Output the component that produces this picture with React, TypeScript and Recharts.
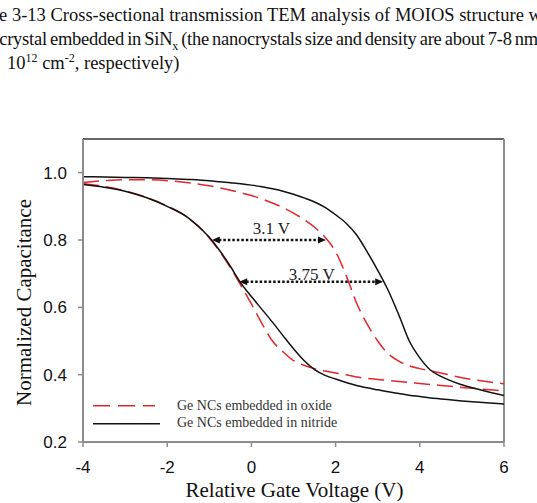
import React from "react";
import {
  LineChart,
  Line,
  XAxis,
  YAxis,
  ReferenceLine,
  Legend,
  Label,
} from "recharts";

// C-V hysteresis of MOIOS capacitors: Ge nanocrystals in oxide vs. in nitride.
// Each sweep direction is its own branch, sampled on the shared gate-voltage grid.

const VOLTS = [
  -4, -3.5, -3, -2.5, -2, -1.5, -1, -0.75, -0.5, -0.25, 0, 0.25, 0.5, 0.75, 1,
  1.25, 1.5, 1.75, 2, 2.25, 2.5, 2.75, 3, 3.25, 3.5, 3.75, 4, 4.25, 4.5, 5, 5.5,
  6,
];

const OXIDE_FORWARD = [
  0.968, 0.959, 0.946, 0.927, 0.901, 0.866, 0.806, 0.765, 0.718, 0.665, 0.61,
  0.552, 0.5, 0.468, 0.442, 0.428, 0.418, 0.411, 0.405, 0.4, 0.393, 0.389, 0.386,
  0.383, 0.38, 0.377, 0.374, 0.371, 0.368, 0.362, 0.357, 0.352,
];

const OXIDE_REVERSE = [
  0.971, 0.976, 0.979, 0.979, 0.976, 0.97, 0.961, 0.955, 0.948, 0.94, 0.932,
  0.922, 0.91, 0.896, 0.88, 0.861, 0.838, 0.808, 0.765, 0.695, 0.612, 0.55, 0.5,
  0.462, 0.44, 0.426, 0.418, 0.411, 0.405, 0.391, 0.381, 0.373,
];

const NITRIDE_FORWARD = [
  0.965, 0.957, 0.945, 0.926, 0.9, 0.866, 0.808, 0.768, 0.722, 0.672, 0.632,
  0.594, 0.556, 0.516, 0.477, 0.442, 0.415, 0.398, 0.387, 0.377, 0.368, 0.361,
  0.355, 0.349, 0.344, 0.339, 0.335, 0.331, 0.328, 0.322, 0.317, 0.313,
];

const NITRIDE_REVERSE = [
  0.988, 0.987, 0.986, 0.985, 0.983, 0.98, 0.976, 0.973, 0.97, 0.967, 0.963,
  0.958, 0.952, 0.945, 0.936, 0.925, 0.913, 0.897, 0.875, 0.85, 0.815, 0.765,
  0.71, 0.65, 0.578, 0.5, 0.45, 0.414, 0.395, 0.37, 0.353, 0.338,
];

const X_TICKS = [-4, -2, 0, 2, 4, 6];
const Y_TICKS = [0.2, 0.4, 0.6, 0.8, 1.0];

// memory windows marked between the branches
const WINDOW_OXIDE = { text: "3.1 V", from: -0.94, to: 1.77, level: 0.8 };
const WINDOW_NITRIDE = { text: "3.75 V", from: -0.29, to: 3.13, level: 0.676 };

const LEGEND_ITEMS = [
  { name: "Ge NCs embedded in oxide", color: "#e3262b", dash: "17 8", len: 62 },
  { name: "Ge NCs embedded in nitride", color: "#111", dash: undefined, len: 67 },
];

const rows = VOLTS.map((v, i) => ({
  v,
  oxideFwd: OXIDE_FORWARD[i],
  oxideRev: OXIDE_REVERSE[i],
  nitrideFwd: NITRIDE_FORWARD[i],
  nitrideRev: NITRIDE_REVERSE[i],
}));

const AXIS_GRAY = "#8c8c8c";
const RED = "#e3262b";
const INK = "#111";
const SERIF = "'Liberation Serif', 'Times New Roman', serif";
const SANS = "'Liberation Sans', Arial, sans-serif";

function dottedArrow(text: string, lift: number, shift: number) {
  return (p: any) => {
    const { x1, y1, x2 } = p;
    const head = 8;
    return (
      <g>
        <line
          x1={x1 + head - 1}
          y1={y1}
          x2={x2 - head + 1}
          y2={y1}
          stroke={INK}
          strokeWidth={2.5}
          strokeDasharray="2.5 2"
        />
        <polygon
          points={`${x1},${y1} ${x1 + head},${y1 - 3.5} ${x1 + head},${y1 + 3.5}`}
          fill={INK}
        />
        <polygon
          points={`${x2},${y1} ${x2 - head},${y1 - 3.5} ${x2 - head},${y1 + 3.5}`}
          fill={INK}
        />
        <text
          x={(x1 + x2) / 2 + shift}
          y={y1 - lift}
          textAnchor="middle"
          fontFamily={SERIF}
          fontSize={17}
          fill="#222"
        >
          {text}
        </text>
      </g>
    );
  };
}

const xTitle = (p: any) => {
  const vb = p.viewBox;
  return (
    <text
      x={vb.x + vb.width / 2 + 1}
      y={vb.y + 55}
      textAnchor="middle"
      fontFamily={SERIF}
      fontSize={21}
      fill={INK}
    >
      Relative Gate Voltage (V)
    </text>
  );
};

const yTitle = (p: any) => {
  const vb = p.viewBox;
  const x = vb.x + vb.width - 52;
  const y = vb.y + vb.height / 2 + 12;
  return (
    <text
      x={x}
      y={y}
      transform={`rotate(-90, ${x}, ${y})`}
      textAnchor="middle"
      fontFamily={SERIF}
      fontSize={21}
      fill={INK}
    >
      Normalized Capacitance
    </text>
  );
};

const renderLegend = () => (
  <div>
    {LEGEND_ITEMS.map((item) => (
      <div
        key={item.name}
        style={{ display: "flex", alignItems: "center", height: 17.5 }}
      >
        <svg width={87} height={17.5}>
          <line
            x1={3}
            x2={3 + item.len}
            y1={8.75}
            y2={8.75}
            stroke={item.color}
            strokeWidth={1.5}
            strokeDasharray={item.dash}
          />
        </svg>
        <span
          style={{
            fontFamily: SERIF,
            fontSize: 14,
            color: "#333",
            whiteSpace: "nowrap",
          }}
        >
          {item.name}
        </span>
      </div>
    ))}
  </div>
);

const captionLine = (
  marginLeft: number,
  wordSpacing = 0,
  letterSpacing = 0
): React.CSSProperties => ({
  marginLeft,
  wordSpacing,
  letterSpacing,
  fontFamily: SERIF,
  whiteSpace: "nowrap",
});

const small: React.CSSProperties = { fontSize: 12, lineHeight: 0 };

export default function App() {
  return (
    <div
      style={{
        position: "absolute",
        left: 0,
        top: 0,
        width: 537,
        height: 503,
        background: "#fff",
        overflow: "hidden",
      }}
    >
      <div
        style={{
          position: "absolute",
          left: 0,
          top: 2.5,
          width: 537,
          fontFamily: SERIF,
          fontSize: 18.5,
          lineHeight: "24px",
          color: INK,
        }}
      >
        <div style={captionLine(-41)}>
          Figure 3-13 Cross-sectional transmission TEM analysis of MOIOS
          structure with
        </div>
        <div style={captionLine(-60, -1.2, -0.25)}>
          Ge nanocrystal embedded in SiN<sub style={small}>x</sub> (the
          nanocrystals size and density are about 7-8 nm and
        </div>
        <div style={captionLine(7)}>
          10<sup style={small}>12</sup> cm<sup style={small}>-2</sup>,
          respectively)
        </div>
      </div>

      <div style={{ position: "absolute", left: 0, top: 0 }}>
        <LineChart
          width={537}
          height={503}
          data={rows}
          margin={{ top: 139, right: 33, bottom: 11, left: 23 }}
        >
          <XAxis
            dataKey="v"
            type="number"
            domain={[-4, 6]}
            ticks={X_TICKS}
            allowDataOverflow
            height={50}
            tickSize={5}
            tickMargin={14}
            axisLine={{ stroke: AXIS_GRAY, strokeWidth: 2 }}
            tickLine={{ stroke: AXIS_GRAY, strokeWidth: 1.5 }}
            tick={{ fill: INK, fontSize: 17, fontFamily: SANS }}
          >
            <Label content={xTitle} />
          </XAxis>
          <YAxis
            type="number"
            domain={[0.2, 1.1]}
            ticks={Y_TICKS}
            allowDataOverflow
            width={60}
            tickSize={5}
            tickMargin={11}
            tickFormatter={(v: number) => v.toFixed(1)}
            axisLine={{ stroke: AXIS_GRAY, strokeWidth: 2 }}
            tickLine={{ stroke: AXIS_GRAY, strokeWidth: 1.5 }}
            tick={{ fill: INK, fontSize: 17, fontFamily: SANS }}
          >
            <Label content={yTitle} />
          </YAxis>

          <ReferenceLine y={1.1} stroke="#333" strokeWidth={1.5} ifOverflow="visible" />
          <ReferenceLine x={6} stroke={AXIS_GRAY} strokeWidth={2} ifOverflow="visible" />

          <Line
            dataKey="oxideFwd"
            type="monotone"
            stroke={RED}
            strokeWidth={1.5}
            strokeDasharray="16 7"
            dot={false}
            activeDot={false}
            isAnimationActive={false}
          />
          <Line
            dataKey="oxideRev"
            type="monotone"
            stroke={RED}
            strokeWidth={1.5}
            strokeDasharray="16 7"
            dot={false}
            activeDot={false}
            isAnimationActive={false}
          />
          <Line
            dataKey="nitrideFwd"
            type="monotone"
            stroke={INK}
            strokeWidth={1.5}
            dot={false}
            activeDot={false}
            isAnimationActive={false}
          />
          <Line
            dataKey="nitrideRev"
            type="monotone"
            stroke={INK}
            strokeWidth={1.5}
            dot={false}
            activeDot={false}
            isAnimationActive={false}
          />

          <ReferenceLine
            segment={[
              { x: WINDOW_OXIDE.from, y: WINDOW_OXIDE.level },
              { x: WINDOW_OXIDE.to, y: WINDOW_OXIDE.level },
            ]}
            shape={dottedArrow(WINDOW_OXIDE.text, 6.5, 2.5)}
          />
          <ReferenceLine
            segment={[
              { x: WINDOW_NITRIDE.from, y: WINDOW_NITRIDE.level },
              { x: WINDOW_NITRIDE.to, y: WINDOW_NITRIDE.level },
            ]}
            shape={dottedArrow(WINDOW_NITRIDE.text, 1.5, 0.5)}
          />

          <Legend
            layout="vertical"
            align="center"
            verticalAlign="middle"
            content={renderLegend}
            wrapperStyle={{ left: 90, top: 397, width: 270, height: 36 }}
          />
        </LineChart>
      </div>
    </div>
  );
}
